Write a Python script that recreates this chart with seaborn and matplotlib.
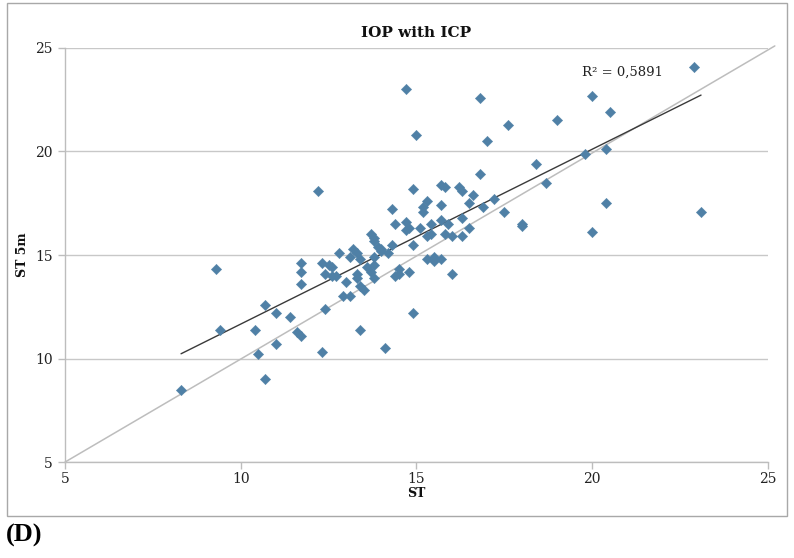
import numpy as np
import pandas as pd
import seaborn as sns
import matplotlib.pyplot as plt
from matplotlib.patches import Rectangle

# ST (x) and ST 5m (y) values
st = [8.3, 9.3, 9.4, 10.4, 10.5, 10.7, 10.7, 11.0, 11.0, 11.4,
      11.6, 11.7, 11.7, 11.7, 11.7, 12.2, 12.3, 12.3, 12.4, 12.4,
      12.5, 12.6, 12.6, 12.7, 12.8, 12.9, 13.0, 13.1, 13.1, 13.2,
      13.3, 13.4, 13.3, 13.3, 13.4, 13.5, 13.4, 13.6, 13.7, 13.7,
      13.8, 13.8, 13.8, 13.8, 13.9, 14.0, 14.0, 13.8, 14.1, 14.2,
      14.3, 14.3, 14.4, 14.5, 14.5, 14.4, 14.7, 14.7, 14.8, 14.7,
      14.8, 14.9, 14.9, 14.9, 15.0, 15.1, 15.2, 15.2, 15.3, 15.3,
      15.3, 15.4, 15.4, 15.5, 15.5, 15.7, 15.7, 15.7, 15.7, 15.8,
      15.8, 15.9, 16.0, 16.0, 16.2, 16.3, 16.3, 16.3, 16.5, 16.5,
      16.6, 16.8, 16.8, 16.9, 17.0, 17.2, 17.5, 17.6, 18.0, 18.0,
      18.4, 18.7, 19.0, 19.8, 20.0, 20.0, 20.4, 20.4, 20.5, 22.9,
      23.1]
st_5m = [8.5, 14.3, 11.4, 11.4, 10.2, 12.6, 9.0, 12.2, 10.7, 12.0,
         11.3, 11.1, 14.6, 14.2, 13.6, 18.1, 14.6, 10.3, 14.1, 12.4,
         14.5, 14.4, 14.0, 14.0, 15.1, 13.0, 13.7, 13.0, 14.9, 15.3,
         15.1, 14.8, 14.1, 13.9, 13.5, 13.3, 11.4, 14.4, 14.2, 16.0,
         15.8, 15.7, 14.5, 13.9, 15.4, 15.2, 15.3, 14.9, 10.5, 15.1,
         15.5, 17.2, 16.5, 14.3, 14.1, 14.0, 16.6, 16.2, 16.3, 23.0,
         14.2, 15.5, 18.2, 12.2, 20.8, 16.3, 17.3, 17.1, 17.6, 15.9,
         14.8, 16.0, 16.5, 14.9, 14.7, 14.8, 16.7, 17.4, 18.4, 18.3,
         16.0, 16.5, 15.9, 14.1, 18.3, 18.1, 15.9, 16.8, 16.3, 17.5,
         17.9, 18.9, 22.6, 17.3, 20.5, 17.7, 17.1, 21.3, 16.5, 16.4,
         19.4, 18.5, 21.5, 19.9, 22.7, 16.1, 20.1, 17.5, 21.9, 24.1,
         17.1]
r2_label = "R² = 0,5891"

data = pd.DataFrame({"ST": st, "ST 5m": st_5m})

sns.set_theme(style="white")
plt.rcParams["font.family"] = ["DejaVu Serif"]

fig = plt.figure(figsize=(7.94, 5.58), dpi=100)
ax = fig.add_axes([0.082, 0.172, 0.885, 0.742])

# identity line
ax.plot([5, 25.2], [5, 25.1], color="#BDBDBD", lw=1.1, clip_on=False, zorder=1)

sns.regplot(x="ST", y="ST 5m", data=data, ci=None, scatter=False, truncate=True,
            line_kws={"color": "#3A3A3A", "lw": 1.0, "zorder": 2}, ax=ax)

sns.scatterplot(x="ST", y="ST 5m", data=data, marker="D", s=28,
                color="#4F80A6", edgecolor="#4F80A6", linewidth=0.3,
                zorder=3, ax=ax)

ax.set_xlim(5, 25)
ax.set_ylim(5, 25)
ax.set_xticks([5, 10, 15, 20, 25])
ax.set_yticks([5, 10, 15, 20, 25])
ax.yaxis.grid(True, color="#C8C8C8", lw=1.0)
ax.xaxis.grid(False)
ax.set_axisbelow(True)

for side in ["top", "right"]:
    ax.spines[side].set_visible(False)
for side in ["left", "bottom"]:
    ax.spines[side].set_color("#BDBDBD")
    ax.spines[side].set_linewidth(1.0)

ax.tick_params(axis="both", which="major", length=5, width=1, color="#BDBDBD",
               labelsize=10, labelcolor="#222222", direction="out",
               bottom=True, left=True)
ax.tick_params(axis="x", pad=2)
ax.tick_params(axis="y", pad=4)

ax.set_title("IOP with ICP", fontsize=11, fontweight="bold", pad=8, color="#111111")
ax.set_xlabel("ST", fontsize=9, fontweight="bold", labelpad=1, color="#111111")
ax.set_ylabel("ST 5m", fontsize=9, fontweight="bold", labelpad=4, color="#111111")

ax.text(19.7, 23.85, r2_label, fontsize=9.5, color="#222222", va="center")

# outer frame and panel letter
fig.patches.append(Rectangle((0.009, 0.075), 0.982, 0.92, transform=fig.transFigure,
                             fill=False, edgecolor="#A8A8A8", lw=1.0))
fig.text(0.008, 0.041, "(D)", fontsize=19, fontweight="bold", va="center",
         color="black", family=["Liberation Serif", "DejaVu Serif"])

plt.savefig("out.png", dpi=100)
